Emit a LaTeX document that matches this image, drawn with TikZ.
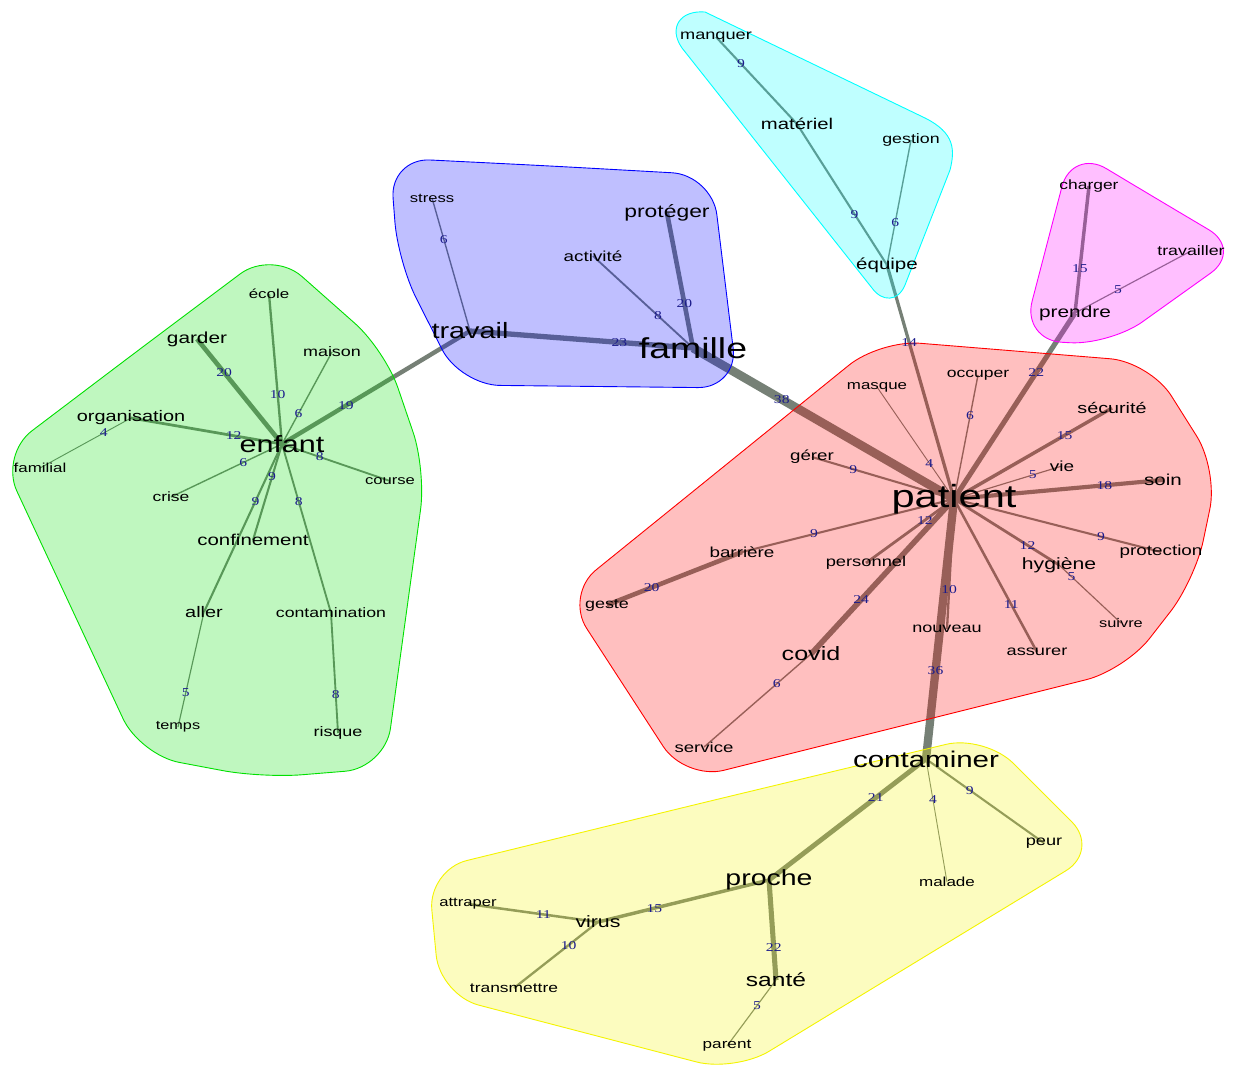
\documentclass[tikz,border=0pt]{standalone}
\usepackage{fontspec}
\setmainfont{Liberation Sans}
\newfontfamily\numfont{Liberation Serif}
\pgfdeclarelayer{edgelayer}
\pgfdeclarelayer{hulllayer}
\pgfsetlayers{edgelayer,hulllayer,main}
\definecolor{edgegray}{HTML}{768076}
\definecolor{labblue}{HTML}{1C1C8C}
\definecolor{hgreen}{HTML}{00E000}
\definecolor{hblue}{HTML}{0000FF}
\definecolor{hcyan}{HTML}{00FFFF}
\definecolor{hmag}{HTML}{FF00FF}
\definecolor{hred}{HTML}{FF0000}
\definecolor{hyel}{HTML}{F4F400}
\newcommand\W[2]{\fontsize{#1}{#1}\selectfont\scalebox{1.3}[1]{#2}}
\newcommand\E[5]{%
  \begin{pgfonlayer}{edgelayer}\draw[edge=#3] (#1.center) -- (#2.center);\end{pgfonlayer}%
  \path (#1.center) -- node[lab,pos=#4] (L#1#2) {\scalebox{1.3}[1]{#5}} (#2.center);}
\tikzset{
  wd/.style={inner sep=0pt, text=black},
  lab/.style={inner sep=0pt, text=labblue, font=\numfont\fontsize{12}{12}\selectfont},
  edge/.style={draw=edgegray, line width=#1*0.23pt},
  hull/.style={draw=#1, fill=#1, fill opacity=0.25, line width=0.9pt, rounded corners=40pt},
}
\begin{document}
\begin{tikzpicture}[x=1pt,y=-1pt]
\begin{pgfonlayer}{edgelayer}
\fill[white] (0,0) rectangle (1236,1065);
\end{pgfonlayer}
\useasboundingbox (0,0) rectangle (1236,1065);

% ---------- words ----------
% green
\node[wd] (enfant) at (282,444) {\W{23.5}{enfant}};
\node[wd] (garder) at (197,339) {\W{16}{garder}};
\node[wd] (ecole) at (269,294) {\W{13}{école}};
\node[wd] (maison) at (332,352) {\W{13.8}{maison}};
\node[wd] (organisation) at (131,418) {\W{15.3}{organisation}};
\node[wd] (familial) at (40,468) {\W{13}{familial}};
\node[wd] (crise) at (171,497) {\W{13.4}{crise}};
\node[wd] (course) at (390,481) {\W{12.8}{course}};
\node[wd] (confinement) at (253,540) {\W{15.7}{confinement}};
\node[wd] (aller) at (204,612) {\W{15.3}{aller}};
\node[wd] (contamination) at (331,613) {\W{13.6}{contamination}};
\node[wd] (temps) at (178,727) {\W{12.5}{temps}};
\node[wd] (risque) at (338,733) {\W{13.8}{risque}};
% blue
\node[wd] (travail) at (470,331) {\W{22.2}{travail}};
\node[wd] (stress) at (432,198) {\W{12.8}{stress}};
\node[wd] (activite) at (593,256) {\W{14.5}{activité}};
\node[wd] (proteger) at (667,213) {\W{17.6}{protéger}};
\node[wd] (famille) at (693,348) {\W{28.8}{famille}};
% cyan
\node[wd] (manquer) at (716,37) {\W{14}{manquer}};
\node[wd] (materiel) at (797,124) {\W{15.6}{matériel}};
\node[wd] (gestion) at (911,140) {\W{13.7}{gestion}};
\node[wd] (equipe) at (887,265) {\W{15.8}{équipe}};
% magenta
\node[wd] (charger) at (1089,186) {\W{13.4}{charger}};
\node[wd] (travailler) at (1191,251) {\W{13.7}{travailler}};
\node[wd] (prendre) at (1075,313) {\W{16}{prendre}};
% red
\node[wd] (patient) at (954,499) {\W{32}{patient}};
\node[wd] (masque) at (877,387) {\W{13}{masque}};
\node[wd] (occuper) at (978,375) {\W{13.5}{occuper}};
\node[wd] (securite) at (1112,408) {\W{15.2}{sécurité}};
\node[wd] (vie) at (1062,466) {\W{14.6}{vie}};
\node[wd] (soin) at (1163,480) {\W{15.8}{soin}};
\node[wd] (gerer) at (812,457) {\W{14.4}{gérer}};
\node[wd] (barriere) at (742,552) {\W{14.5}{barrière}};
\node[wd] (geste) at (607,605) {\W{13.8}{geste}};
\node[wd] (personnel) at (866,563) {\W{14.1}{personnel}};
\node[wd] (covid) at (811,654) {\W{19.3}{covid}};
\node[wd] (service) at (704,747) {\W{14.3}{service}};
\node[wd] (nouveau) at (947,629) {\W{13.9}{nouveau}};
\node[wd] (assurer) at (1037,652) {\W{14}{assurer}};
\node[wd] (hygiene) at (1059,565) {\W{16.3}{hygiène}};
\node[wd] (suivre) at (1121,623) {\W{12.6}{suivre}};
\node[wd] (protection) at (1161,552) {\W{14.5}{protection}};
% yellow
\node[wd] (contaminer) at (926,759) {\W{22.7}{contaminer}};
\node[wd] (proche) at (769,880) {\W{21.9}{proche}};
\node[wd] (virus) at (598,922) {\W{16.4}{virus}};
\node[wd] (attraper) at (468,904) {\W{12.8}{attraper}};
\node[wd] (transmettre) at (514,988) {\W{13.4}{transmettre}};
\node[wd] (sante) at (776,980) {\W{18.9}{santé}};
\node[wd] (parent) at (727,1046) {\W{13.2}{parent}};
\node[wd] (peur) at (1044,843) {\W{14}{peur}};
\node[wd] (malade) at (947,882) {\W{13.1}{malade}};

% ---------- edges ----------
\E{enfant}{garder}{20}{0.68}{20}
\E{enfant}{ecole}{10}{0.33}{10}
\E{enfant}{maison}{6}{0.33}{6}
\E{enfant}{travail}{19}{0.34}{19}
\E{enfant}{organisation}{12}{0.32}{12}
\E{organisation}{familial}{4}{0.3}{4}
\E{enfant}{crise}{6}{0.35}{6}
\E{enfant}{course}{8}{0.35}{8}
\E{enfant}{confinement}{9}{0.34}{9}
\E{enfant}{aller}{9}{0.34}{9}
\E{enfant}{contamination}{8}{0.34}{8}
\E{aller}{temps}{5}{0.7}{5}
\E{contamination}{risque}{8}{0.68}{8}

\E{travail}{stress}{6}{0.69}{6}
\E{famille}{travail}{23}{0.33}{23}
\E{famille}{activite}{8}{0.35}{8}
\E{famille}{proteger}{20}{0.33}{20}
\E{famille}{patient}{38}{0.34}{38}

\E{materiel}{manquer}{9}{0.69}{9}
\E{equipe}{materiel}{9}{0.36}{9}
\E{equipe}{gestion}{6}{0.34}{6}
\E{patient}{equipe}{14}{0.67}{14}

\E{prendre}{charger}{15}{0.35}{15}
\E{prendre}{travailler}{5}{0.37}{5}
\E{patient}{prendre}{22}{0.68}{22}

\E{patient}{masque}{4}{0.32}{4}
\E{patient}{occuper}{6}{0.67}{6}
\E{patient}{securite}{15}{0.7}{15}
\E{patient}{vie}{5}{0.73}{5}
\E{patient}{soin}{18}{0.72}{18}
\E{patient}{gerer}{9}{0.71}{9}
\E{patient}{barriere}{9}{0.66}{9}
\E{barriere}{geste}{20}{0.67}{20}
\E{patient}{personnel}{12}{0.33}{12}
\E{patient}{covid}{24}{0.65}{24}
\E{covid}{service}{6}{0.32}{6}
\E{patient}{nouveau}{10}{0.7}{10}
\E{patient}{assurer}{11}{0.69}{11}
\E{patient}{hygiene}{12}{0.7}{12}
\E{hygiene}{suivre}{5}{0.2}{5}
\E{patient}{protection}{9}{0.71}{9}
\E{patient}{contaminer}{36}{0.66}{36}

\E{contaminer}{proche}{21}{0.32}{21}
\E{contaminer}{malade}{4}{0.33}{4}
\E{contaminer}{peur}{9}{0.37}{9}
\E{proche}{virus}{15}{0.67}{15}
\E{virus}{attraper}{11}{0.42}{11}
\E{virus}{transmettre}{10}{0.35}{10}
\E{proche}{sante}{22}{0.68}{22}
\E{sante}{parent}{5}{0.39}{5}

% ---------- hulls ----------
\begin{pgfonlayer}{hulllayer}
\draw[hull=hgreen] (136,352) -- (272,250) -- (385,350) -- (426,470) -- (385,768) -- (262,778) -- (140,755) -- (0,455) -- cycle;
\draw[hull=hblue] (551,166) -- (712,175) -- (738,388) -- (460,385) -- (398,262) -- (390,158) -- cycle;
\draw[hull=hcyan, sharp corners] (705,12) -- (925,118) .. controls (955,133) and (955,150) .. (950,170) -- (905,285) .. controls (898,302) and (882,302) .. (872,288) -- (682,48) .. controls (668,28) and (680,10) .. (705,12) -- cycle;
\draw[hull=hmag] (1157,199) -- (1243,250) -- (1110,345) -- (1022,340) -- (1072,148) -- cycle;
\draw[hull=hred] (722,468) -- (880,340) -- (1150,362) -- (1218,470) -- (1195,580) -- (1125,670) -- (685,780) -- (565,595) -- cycle;
\draw[hull=hyel] (706,802) -- (985,735) -- (1100,850) -- (735,1072) -- (440,995) -- (428,870) -- cycle;
\end{pgfonlayer}
\end{tikzpicture}
\end{document}
